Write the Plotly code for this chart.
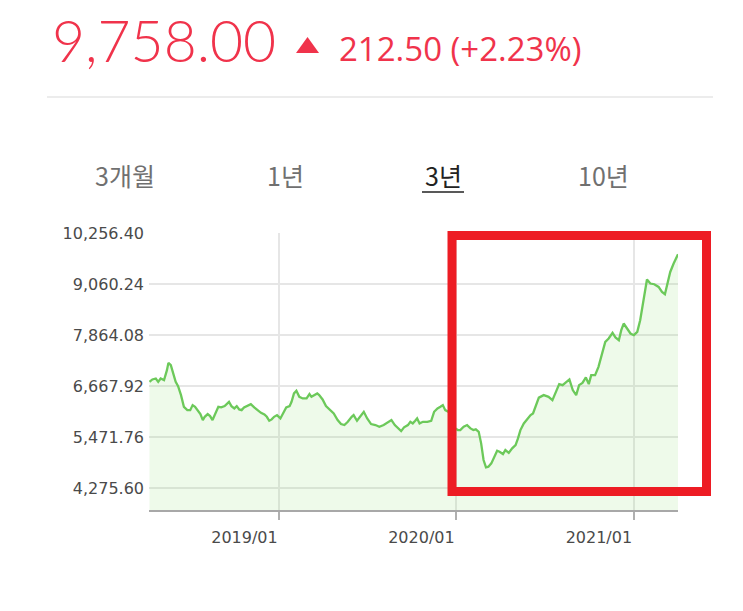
import plotly.graph_objects as go

# ---- data ----
dates = [
    "2018-04-08","2018-04-14","2018-04-21","2018-04-26","2018-05-01","2018-05-08","2018-05-14","2018-05-17",
    "2018-05-22","2018-05-27","2018-06-01","2018-06-06","2018-06-12","2018-06-18","2018-06-25","2018-07-01",
    "2018-07-06","2018-07-11","2018-07-16","2018-07-22","2018-07-27","2018-07-31","2018-08-06","2018-08-11",
    "2018-08-16","2018-08-21","2018-08-28","2018-09-03","2018-09-10","2018-09-19","2018-09-24","2018-09-30",
    "2018-10-05","2018-10-10","2018-10-15","2018-10-20","2018-10-27","2018-11-03","2018-11-10","2018-11-17",
    "2018-11-24","2018-12-01","2018-12-06","2018-12-11","2018-12-16","2018-12-21","2018-12-27",
    "2019-01-03","2019-01-08","2019-01-15","2019-01-22","2019-01-26","2019-01-31","2019-02-05","2019-02-11",
    "2019-02-18","2019-02-26","2019-03-04","2019-03-08","2019-03-14","2019-03-20","2019-03-24","2019-03-31",
    "2019-04-07","2019-04-14","2019-04-23","2019-05-01","2019-05-08","2019-05-15","2019-05-22","2019-05-30",
    "2019-06-03","2019-06-10","2019-06-17","2019-06-24","2019-07-01","2019-07-09","2019-07-18","2019-07-26",
    "2019-08-04","2019-08-13","2019-08-20","2019-08-27","2019-09-04","2019-09-09","2019-09-15","2019-09-23",
    "2019-09-28","2019-10-03","2019-10-08","2019-10-12","2019-10-17","2019-10-24","2019-11-02","2019-11-10",
    "2019-11-16","2019-11-23","2019-11-29","2019-12-04","2019-12-09","2019-12-17","2019-12-23","2019-12-29",
    "2020-01-04","2020-01-09","2020-01-16","2020-01-23","2020-01-30","2020-02-05","2020-02-10","2020-02-16",
    "2020-02-21","2020-02-26","2020-03-02","2020-03-07","2020-03-13","2020-03-20","2020-03-25","2020-03-30",
    "2020-04-06","2020-04-11","2020-04-18","2020-04-25","2020-05-02","2020-05-07","2020-05-12","2020-05-19",
    "2020-05-26","2020-06-02","2020-06-07","2020-06-13","2020-06-19","2020-06-29","2020-07-09","2020-07-17",
    "2020-07-24","2020-07-31","2020-08-07","2020-08-14","2020-08-21","2020-08-28","2020-09-04","2020-09-10",
    "2020-09-17","2020-09-24","2020-09-30","2020-10-05","2020-10-13","2020-10-20","2020-10-27","2020-11-03",
    "2020-11-10","2020-11-18","2020-11-24","2020-12-01","2020-12-06","2020-12-11","2020-12-18","2020-12-25",
    "2021-01-01","2021-01-08","2021-01-14","2021-01-21","2021-01-28","2021-02-04","2021-02-12","2021-02-21",
    "2021-02-28","2021-03-06","2021-03-11","2021-03-17","2021-03-24","2021-04-02",
]
values = [
    6770, 6826, 6849, 6770, 6849, 6810, 7044, 7214,
    7160, 6966, 6770, 6669, 6459, 6185, 6107, 6107,
    6225, 6185, 6107, 6014, 5874, 5951, 6014, 5967,
    5874, 5991, 6185, 6171, 6201, 6302, 6201, 6147,
    6201, 6124, 6107, 6171, 6201, 6248, 6171, 6107,
    6044, 6007, 5951, 5857, 5890, 5951, 5991,
    5913, 6030, 6171, 6201, 6302, 6498, 6559, 6419,
    6381, 6381, 6482, 6419, 6459, 6498, 6459, 6358,
    6201, 6124, 6030, 5874, 5780, 5757, 5834, 5951,
    5991, 5857, 5967, 6068, 5913, 5780, 5757, 5717,
    5757, 5834, 5874, 5757, 5679, 5616, 5703, 5757,
    5834, 5796, 5857, 5913, 5796, 5834, 5834, 5857,
    6068, 6147, 6185, 6225, 6107, 6061, 5920, 5686,
    5640, 5640, 5717, 5757, 5679, 5640, 5656, 5600,
    5328, 4938, 4767, 4781, 4860, 5015, 5155, 5132,
    5078, 5172, 5108, 5211, 5289, 5445, 5640, 5796,
    5890, 5991, 6030, 6225, 6400, 6459, 6419, 6342,
    6536, 6716, 6693, 6770, 6826, 6576, 6459, 6693,
    6746, 6873, 6716, 6927, 6927, 7121, 7395, 7706,
    7785, 7916, 7809, 7746, 7980, 8136, 8019, 7902,
    7863, 7940, 8214, 8721, 9166, 9072, 9056, 8993,
    8876, 8822, 9072, 9344, 9540, 9758,
]
y_tickvals = [4275.60, 5471.76, 6667.92, 7864.08, 9060.24, 10256.40]
x_tickvals = ["2019-01-01", "2020-01-01", "2021-01-01"]
x_ticktext = ["2019/01", "2020/01", "2021/01"]
tabs = ["3개월", "1년", "3년", "10년"]
price_text = "9,758.00"
change_text = "212.50 (+2.23%)"

# ---- layout geometry (pixels) ----
W, H = 743, 611
L, R, T, B = 149, 65, 233, 101
PW, PH = W - L - R, H - T - B

def px(x):
    return (x - L) / PW

def py(y):
    return (H - B - y) / PH

RED = "#f0334b"

fig = go.Figure()
fig.add_trace(go.Scatter(
    x=dates, y=values, mode="lines",
    line=dict(color="#6cc95a", width=2.3),
    fill="tozeroy", fillcolor="rgba(120,215,95,0.13)",
    hoverinfo="skip",
))

fig.update_layout(
    width=W, height=H,
    margin=dict(l=L, r=R, t=T, b=B, pad=0),
    paper_bgcolor="white", plot_bgcolor="white",
    showlegend=False,
    xaxis=dict(
        range=["2018-04-07", "2021-04-02"],
        tickvals=x_tickvals, ticktext=x_ticktext,
        showgrid=True, gridcolor="#e6e6e6", gridwidth=1.5,
        showline=True, linecolor="#a8a8a8", linewidth=1.5,
        ticks="outside", ticklen=8, tickcolor="#b0b0b0", tickwidth=1.5,
        tickfont=dict(family="DejaVu Sans", size=16, color="#4a4a4a"),
        ticklabelshift=-35, ticklabelstandoff=4,
        zeroline=False, fixedrange=True,
    ),
    yaxis=dict(
        range=[3767.6, 10256.4],
        tickvals=y_tickvals, tickformat=",.2f",
        showgrid=True, gridcolor="#e6e6e6", gridwidth=1.5,
        showline=False, ticks="", ticklabelstandoff=4,
        tickfont=dict(family="DejaVu Sans", size=16, color="#4a4a4a"),
        zeroline=False, fixedrange=True,
    ),
)

ann = []
ann.append(dict(text=price_text, x=px(50), y=py(40), xref="paper", yref="paper",
                xanchor="left", yanchor="middle", showarrow=False,
                font=dict(family="Lato", size=57, color=RED, weight=300)))
ann.append(dict(text=change_text, x=px(337), y=py(48), xref="paper", yref="paper",
                xanchor="left", yanchor="middle", showarrow=False,
                font=dict(family="Open Sans", size=33, color=RED)))
tab_centers = [125, 285, 443, 603]
for name, cx in zip(tabs, tab_centers):
    active = name == "3년"
    ann.append(dict(text=name, x=px(cx), y=py(175), xref="paper", yref="paper",
                    xanchor="center", yanchor="middle", showarrow=False,
                    font=dict(family="Noto Sans CJK KR", size=25,
                              color="#222222" if active else "#707070")))
fig.update_layout(annotations=ann)

shapes = []
# up triangle
shapes.append(dict(type="path", xref="paper", yref="paper",
                   path=f"M {px(296)},{py(53)} L {px(319)},{py(53)} L {px(307.5)},{py(37)} Z",
                   fillcolor=RED, line=dict(width=0)))
# separator
shapes.append(dict(type="line", xref="paper", yref="paper",
                   x0=px(47), x1=px(713), y0=py(97), y1=py(97),
                   line=dict(color="#ececec", width=2)))
# tab underline
shapes.append(dict(type="line", xref="paper", yref="paper",
                   x0=px(422), x1=px(464), y0=py(192), y1=py(192),
                   line=dict(color="#222222", width=1.5)))
# red highlight box
shapes.append(dict(type="rect", xref="paper", yref="paper",
                   x0=px(452), x1=px(706.5), y0=py(491.5), y1=py(235.5),
                   line=dict(color="#ed1c24", width=9), fillcolor="rgba(0,0,0,0)"))
fig.update_layout(shapes=shapes)

fig.write_html("out.html")
